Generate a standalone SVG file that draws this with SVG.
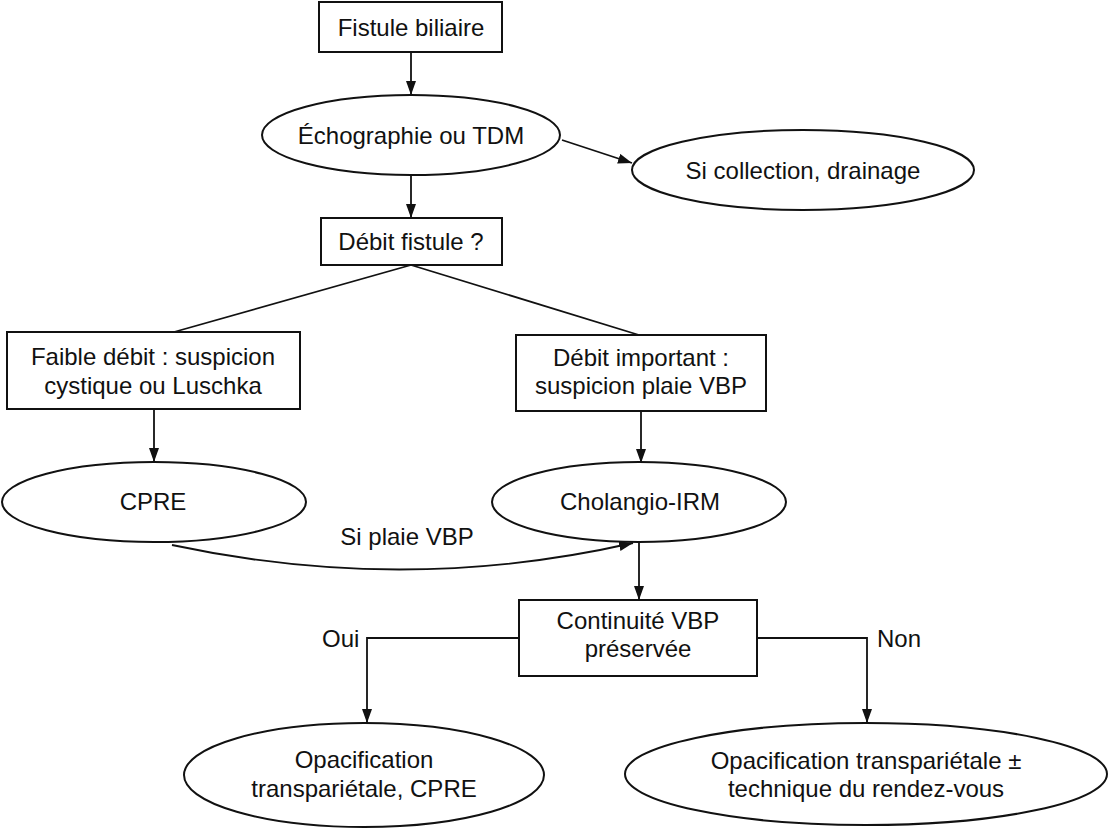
<svg xmlns="http://www.w3.org/2000/svg" width="1113" height="830" viewBox="0 0 1113 830">
<defs>
<marker id="ah" markerUnits="userSpaceOnUse" markerWidth="16" markerHeight="11" refX="14" refY="5" orient="auto">
<path d="M0,0 L14,5 L0,10 z" fill="#111"/>
</marker>
<style>
.n{fill:#fff;stroke:#111;stroke-width:2}
.t{font-family:"Liberation Sans",Arial,Helvetica,sans-serif;font-size:24px;fill:#111;text-anchor:middle}
.l{font-family:"Liberation Sans",Arial,Helvetica,sans-serif;font-size:24px;fill:#111}
.c{fill:none;stroke:#111;stroke-width:1.8}
.a{marker-end:url(#ah)}
</style>
</defs>
<rect width="1113" height="830" fill="#fff"/>
<g id="connectors">
<line class="c a" x1="411" y1="52" x2="411" y2="95"/>
<line class="c a" x1="562" y1="140" x2="632" y2="163"/>
<line class="c a" x1="411" y1="175" x2="411" y2="218"/>
<line class="c" x1="411" y1="265" x2="174" y2="332"/>
<line class="c" x1="411" y1="265" x2="639" y2="335"/>
<line class="c a" x1="154" y1="409" x2="154" y2="462"/>
<line class="c a" x1="641" y1="411" x2="641" y2="463"/>
<path class="c a" d="M172,545 Q405,595 633,543"/>
<text class="t" x="407" y="545">Si plaie VBP</text>
<line class="c a" x1="639" y1="542" x2="639" y2="600"/>
<polyline class="c a" points="519,638 367,638 367,723"/>
<text class="l" x="322" y="647">Oui</text>
<polyline class="c a" points="757,638 867,638 867,723"/>
<text class="l" x="877" y="647">Non</text>
</g>
<g id="n1">
<rect class="n" x="319" y="2" width="183" height="50"/>
<text class="t" x="411" y="36">Fistule biliaire</text>
</g>
<g id="n2">
<ellipse class="n" cx="411" cy="135" rx="149" ry="40"/>
<text class="t" x="411" y="144">Échographie ou TDM</text>
</g>
<g id="n3">
<ellipse class="n" cx="803" cy="170" rx="171" ry="40"/>
<text class="t" x="803" y="179">Si collection, drainage</text>
</g>
<g id="n4">
<rect class="n" x="321" y="218" width="181" height="47"/>
<text class="t" x="411" y="250">Débit fistule ?</text>
</g>
<g id="n5">
<rect class="n" x="7" y="332" width="293" height="77"/>
<text class="t" x="153" y="365">Faible débit : suspicion</text>
<text class="t" x="153" y="394">cystique ou Luschka</text>
</g>
<g id="n6">
<rect class="n" x="516" y="335" width="250" height="76"/>
<text class="t" x="641" y="366">Débit important :</text>
<text class="t" x="641" y="394">suspicion plaie VBP</text>
</g>
<g id="n7">
<ellipse class="n" cx="154" cy="502" rx="152" ry="40"/>
<text class="t" x="153" y="510">CPRE</text>
</g>
<g id="n8">
<ellipse class="n" cx="639" cy="502" rx="147" ry="40"/>
<text class="t" x="640" y="510">Cholangio-IRM</text>
</g>
<g id="n9">
<rect class="n" x="519" y="600" width="238" height="76"/>
<text class="t" x="638" y="629">Continuité VBP</text>
<text class="t" x="638" y="657">préservée</text>
</g>
<g id="n10">
<ellipse class="n" cx="364" cy="775" rx="180" ry="52"/>
<text class="t" x="364" y="768">Opacification</text>
<text class="t" x="364" y="797">transpariétale, CPRE</text>
</g>
<g id="n11">
<ellipse class="n" cx="866" cy="774" rx="241" ry="51"/>
<text class="t" x="866" y="769">Opacification transpariétale ±</text>
<text class="t" x="866" y="797">technique du rendez-vous</text>
</g>
</svg>
